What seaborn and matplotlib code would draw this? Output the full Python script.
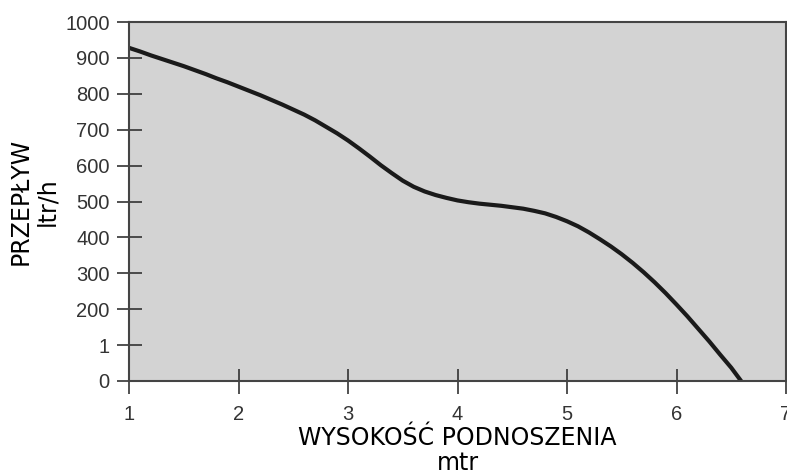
import matplotlib
matplotlib.use("Agg")
import matplotlib.pyplot as plt
import seaborn as sns
import pandas as pd

# data
height_m = [1.0, 1.1, 1.2, 1.3, 1.4, 1.5, 1.6, 1.7, 1.8, 1.9,
            2.0, 2.1, 2.2, 2.3, 2.4, 2.5, 2.6, 2.7, 2.8, 2.9,
            3.0, 3.1, 3.2, 3.3, 3.4, 3.5, 3.6, 3.7, 3.8, 3.9,
            4.0, 4.1, 4.2, 4.3, 4.4, 4.5, 4.6, 4.7, 4.8, 4.9,
            5.0, 5.1, 5.2, 5.3, 5.4, 5.5, 5.6, 5.7, 5.8, 5.9,
            6.0, 6.1, 6.2, 6.3, 6.4, 6.5, 6.59]
flow_lh = [928, 918, 907, 897, 887, 877, 866, 855, 843, 832,
           820, 808, 796, 783, 770, 756, 742, 726, 708, 690,
           670, 648, 625, 601, 579, 558, 541, 528, 518, 510,
           503, 498, 494, 491, 488, 484, 480, 474, 467, 457,
           445, 431, 414, 395, 375, 353, 329, 303, 275, 245,
           213, 180, 145, 110, 73, 37, 0]
x_ticks = [1, 2, 3, 4, 5, 6, 7]
y_ticks = [0, 100, 200, 300, 400, 500, 600, 700, 800, 900, 1000]
y_tick_labels = ["0", "1", "200", "300", "400", "500", "600", "700", "800", "900", "1000"]
x_label = "WYSOKOŚĆ PODNOSZENIA\nmtr"
y_label = "PRZEPŁYW\nltr/h"

sns.set_style("white")
plt.rcParams['font.family'] = ['Liberation Sans', 'DejaVu Sans']

df = pd.DataFrame({"h": height_m, "q": flow_lh})

fig = plt.figure(figsize=(7.87, 4.76), dpi=100)
ax = fig.add_axes([129/787, 1 - 381/476, (786 - 129)/787, (381 - 22)/476])
ax.set_facecolor("#d3d3d3")

sns.lineplot(data=df, x="h", y="q", ax=ax, color="#1a1a1a", linewidth=3.0,
             solid_capstyle="round", solid_joinstyle="round")

ax.set_xlim(1, 7)
ax.set_ylim(0, 1000)
ax.set_xticks(x_ticks)
ax.set_xticklabels([str(t) for t in x_ticks])
ax.set_yticks(y_ticks)
ax.set_yticklabels(y_tick_labels)

ax.tick_params(axis="both", direction="inout", length=18, width=1.2,
               colors="#333333", labelsize=14.5, labelcolor="#333333",
               bottom=True, left=True)
ax.tick_params(axis="y", pad=5)
ax.tick_params(axis="x", pad=8)

for side, sp in ax.spines.items():
    sp.set_visible(True)
    sp.set_color("#444444")
    sp.set_linewidth(1.5)

ax.set_xlabel(x_label, fontsize=17, color="black", linespacing=1.05,
              labelpad=2, family="DejaVu Sans")
ax.set_ylabel(y_label, fontsize=17, color="black", linespacing=1.15,
              labelpad=4, family="DejaVu Sans")

fig.savefig("out.png", dpi=100)
